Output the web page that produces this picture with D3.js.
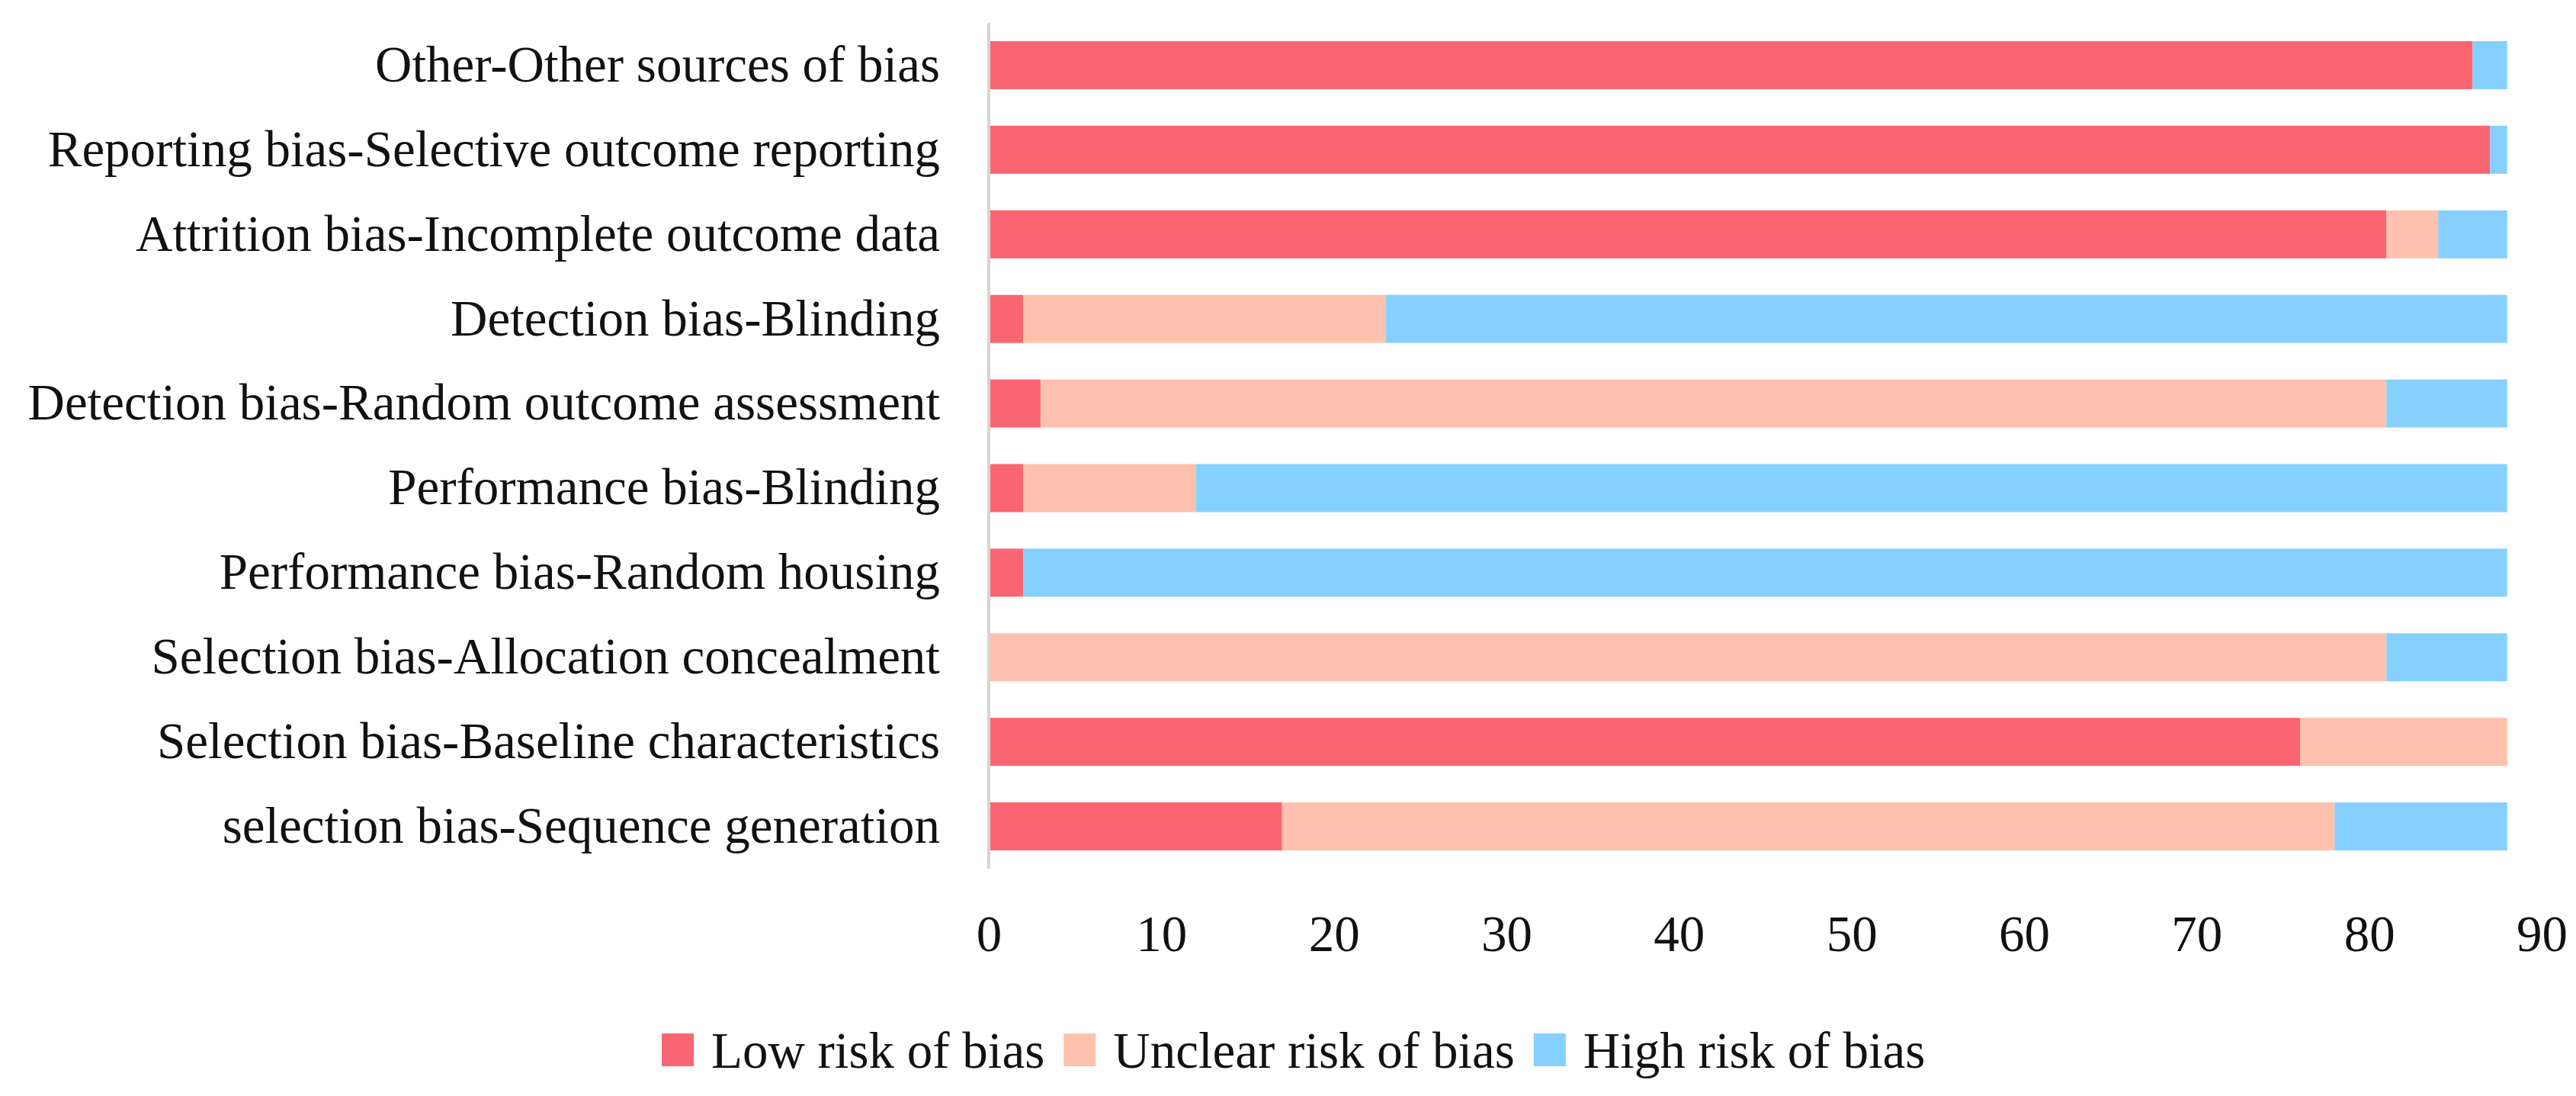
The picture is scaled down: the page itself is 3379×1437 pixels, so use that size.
<!DOCTYPE html>
<html>
<head>
<meta charset="utf-8">
<script src="https://cdn.jsdelivr.net/npm/d3@7"></script>
<style>
    html, body { margin: 0; padding: 0; background: #ffffff; }
    svg { display: block; }
</style>
</head>
<body>
<div class="chart"></div>
<script>
// Categories, top to bottom as drawn.
const categories = [
    "Other-Other sources of bias",
    "Reporting bias-Selective outcome reporting",
    "Attrition bias-Incomplete outcome data",
    "Detection bias-Blinding",
    "Detection bias-Random outcome assessment",
    "Performance bias-Blinding",
    "Performance bias-Random housing",
    "Selection bias-Allocation concealment",
    "Selection bias-Baseline characteristics",
    "selection bias-Sequence generation"
];

const seriesNames = ["Low risk of bias", "Unclear risk of bias", "High risk of bias"];
const lowRisk = [86, 87, 81, 2, 3, 2, 2, 0, 76, 17];
const unclearRisk = [0, 0, 3, 21, 78, 10, 0, 81, 12, 61];
const highRisk = [2, 1, 4, 65, 7, 76, 86, 7, 0, 10];
const xTicks = [0, 10, 20, 30, 40, 50, 60, 70, 80, 90];

const width = 3379;
const height = 1437;
const margin = { top: 30, right: 45, bottom: 298, left: 1297 };
const fontFamily = "'Liberation Serif', 'Times New Roman', serif";
const fontSize = 67;
const colors = ["#f96672", "#fec1ad", "#85d0fe"];

const rows = categories.map((name, i) => ({
    name,
    low: lowRisk[i],
    unclear: unclearRisk[i],
    high: highRisk[i]
}));

const stack = d3.stack().keys(["low", "unclear", "high"]);
const series = stack(rows);

const x = d3.scaleLinear()
    .domain([0, 90])
    .range([margin.left, width - margin.right]);

const y = d3.scaleBand()
    .domain(categories)
    .range([margin.top, height - margin.bottom])
    .paddingInner(0.432)
    .paddingOuter(0.216);

const svg = d3.select(".chart").append("svg")
    .attr("width", width)
    .attr("height", height)
    .style("font-family", fontFamily);

// Bars
svg.append("g")
    .selectAll("g")
    .data(series)
    .join("g")
    .attr("fill", (d, i) => colors[i])
    .selectAll("rect")
    .data(d => d)
    .join("rect")
    .attr("x", d => x(d[0]))
    .attr("y", d => y(d.data.name))
    .attr("width", d => x(d[1]) - x(d[0]))
    .attr("height", y.bandwidth());

// Vertical category axis line
svg.append("line")
    .attr("x1", x(0))
    .attr("x2", x(0))
    .attr("y1", y.range()[0])
    .attr("y2", y.range()[1])
    .attr("stroke", "#d4d4d4")
    .attr("stroke-width", 4);

// Category labels
svg.append("g")
    .selectAll("text")
    .data(categories)
    .join("text")
    .attr("x", x(0) - 64)
    .attr("y", d => y(d) + y.bandwidth() / 2)
    .attr("dy", "0.32em")
    .attr("text-anchor", "end")
    .attr("fill", "#111")
    .style("font-size", fontSize + "px")
    .text(d => d);

// Value axis
const xAxis = svg.append("g")
    .attr("transform", `translate(0,${y.range()[1]})`)
    .call(d3.axisBottom(x).tickValues(xTicks).tickSize(0).tickPadding(60));
xAxis.select(".domain").remove();
xAxis.selectAll("text")
    .attr("fill", "#111")
    .style("font-family", fontFamily)
    .style("font-size", fontSize + "px");

// Legend
const legend = svg.append("g")
    .attr("transform", "translate(868,1400)");
let cursor = 0;
seriesNames.forEach((name, i) => {
    const item = legend.append("g").attr("transform", `translate(${cursor},0)`);
    item.append("rect")
        .attr("x", 0)
        .attr("y", -45)
        .attr("width", 42)
        .attr("height", 43)
        .attr("fill", colors[i]);
    const label = item.append("text")
        .attr("x", 65)
        .attr("y", 0)
        .attr("fill", "#111")
        .style("font-size", fontSize + "px")
        .text(name);
    cursor += 65 + label.node().getComputedTextLength() + 25;
});
</script>
</body>
</html>
